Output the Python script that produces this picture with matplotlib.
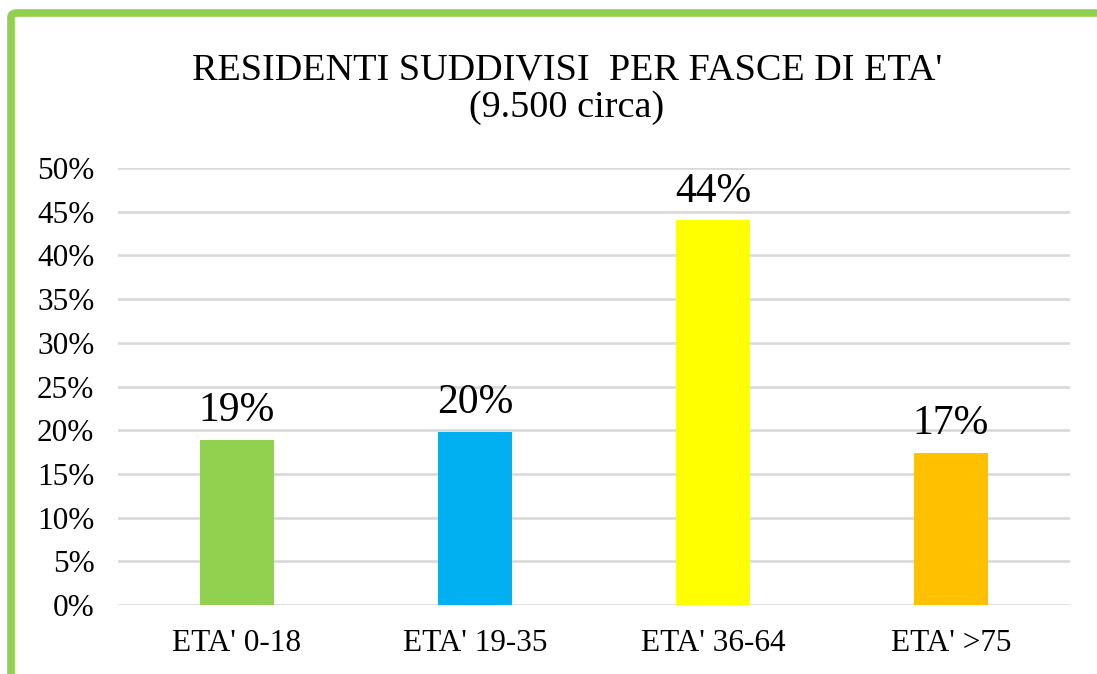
import matplotlib
matplotlib.use("Agg")
import matplotlib.pyplot as plt
from matplotlib.patches import FancyBboxPatch
from matplotlib.ticker import FuncFormatter

categories = ["ETA' 0-18", "ETA' 19-35", "ETA' 36-64", "ETA' >75"]
values = [0.189, 0.198, 0.440, 0.174]
value_labels = ["19%", "20%", "44%", "17%"]
colors = ["#92d050", "#00b0f0", "#ffff00", "#ffc000"]
yticks = [0, 0.05, 0.10, 0.15, 0.20, 0.25, 0.30, 0.35, 0.40, 0.45, 0.50]

plt.rcParams['font.family'] = ['Liberation Serif', 'DejaVu Serif']

W, H = 1097, 674
fig = plt.figure(figsize=(W / 100, H / 100), dpi=100)

# green frame (partially outside the image on right and bottom)
frame = FancyBboxPatch((11 / W, -0.2), 1.2, 1 - 13 / H + 0.2,
                       boxstyle="round,pad=0,rounding_size=0.006",
                       transform=fig.transFigure, fill=False,
                       edgecolor="#92d050", linewidth=5.5, clip_on=False)
fig.patches.append(frame)

ax = fig.add_axes([118 / W, 1 - 605 / H, (1070 - 118) / W, (605 - 168) / H])
x = range(len(categories))
bars = ax.bar(x, values, width=0.315, color=colors, zorder=2)
ax.set_ylim(0, 0.5)
ax.set_xlim(-0.5, len(categories) - 0.5)
ax.set_yticks(yticks)
ax.yaxis.set_major_formatter(FuncFormatter(lambda v, p: f"{round(v * 100)}%"))
ax.set_xticks(list(x))
ax.set_xticklabels(categories)
ax.tick_params(axis='both', length=0, labelsize=22.5, labelcolor="black")
ax.tick_params(axis='y', pad=17)
ax.tick_params(axis='x', pad=17)
ax.grid(axis='y', color="#d9d9d9", linewidth=1.9, zorder=1)
ax.set_axisbelow(True)
for s in ax.spines.values():
    s.set_visible(False)

for b, lab in zip(bars, value_labels):
    ax.annotate(lab, (b.get_x() + b.get_width() / 2, b.get_height()),
                xytext=(0, 7), textcoords="offset points",
                ha="center", va="bottom", fontsize=30)

fig.text(567 / W, 1 - 70 / H, "RESIDENTI SUDDIVISI  PER FASCE DI ETA'",
         ha="center", va="center", fontsize=27.5)
fig.text(567 / W, 1 - 108 / H, "(9.500 circa)",
         ha="center", va="center", fontsize=27.5)

fig.savefig("out.png", dpi=100)
